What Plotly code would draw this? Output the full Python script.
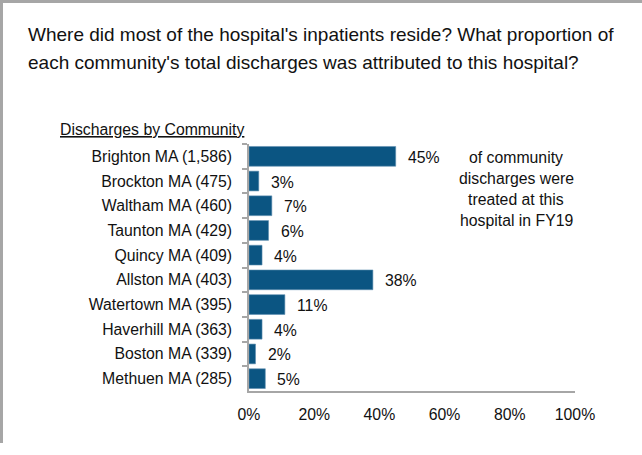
import plotly.graph_objects as go

communities = ["Brighton MA (1,586)", "Brockton MA (475)", "Waltham MA (460)", "Taunton MA (429)",
               "Quincy MA (409)", "Allston MA (403)", "Watertown MA (395)", "Haverhill MA (363)",
               "Boston MA (339)", "Methuen MA (285)"]
share_pct = [45, 3, 7, 6, 4, 38, 11, 4, 2, 5]
x_ticks = [0, 20, 40, 60, 80, 100]
x_tick_labels = ["0%", "20%", "40%", "60%", "80%", "100%"]

title_lines = ["Where did most of the hospital's inpatients reside? What proportion of",
               "each community's total discharges was attributed to this hospital?"]
axis_title = "Discharges by Community"
side_note_lines = ["of community", "discharges were", "treated at this", "hospital in FY19"]

W, H = 642, 455
L, R, T, B = 249, 575, 144, 391
FONT = "Liberation Sans, Arial, sans-serif"
FS = 15.8
BAR = "#0b5582"
GRAY = "#a6a6a6"
TXT = "#111111"

def px(xp):
    return (xp - L) / (R - L)

def py(yp):
    return (B - yp) / (B - T)

fig = go.Figure()
fig.add_trace(go.Bar(
    x=share_pct, y=communities, orientation="h",
    marker=dict(color=BAR, line=dict(color="#5f8fb0", width=0.6)),
    hoverinfo="skip",
))

ann = []
for c, v in zip(communities, share_pct):
    ann.append(dict(x=v, y=c, xref="x", yref="y", text=f"{v}%", showarrow=False,
                    xanchor="left", xshift=10, yshift=-1,
                    font=dict(family=FONT, size=FS, color=TXT)))
for i, line in enumerate(title_lines):
    ann.append(dict(x=px(26), y=py(34 + 29 * i), xref="paper", yref="paper", text=line,
                    showarrow=False, xanchor="left", yanchor="middle",
                    font=dict(family=FONT, size=19, color=TXT)))
ann.append(dict(x=px(246), y=py(130), xref="paper", yref="paper", text=f"<u>{axis_title}</u>",
                showarrow=False, xanchor="right", yanchor="middle",
                font=dict(family=FONT, size=FS, color=TXT)))
for i, line in enumerate(side_note_lines):
    ann.append(dict(x=px(516), y=py(157 + 21 * i), xref="paper", yref="paper", text=line,
                    showarrow=False, xanchor="center", yanchor="middle",
                    font=dict(family=FONT, size=FS, color=TXT)))

shapes = [
    dict(type="rect", xref="paper", yref="paper", x0=px(0), x1=px(W), y0=py(0), y1=py(3),
         fillcolor=GRAY, line=dict(width=0), layer="above"),
    dict(type="rect", xref="paper", yref="paper", x0=px(0), x1=px(3), y0=py(0), y1=py(443),
         fillcolor=GRAY, line=dict(width=0), layer="above"),
]

fig.update_layout(
    width=W, height=H,
    margin=dict(l=L, r=W - R, t=T, b=H - B, pad=0),
    paper_bgcolor="white", plot_bgcolor="white",
    showlegend=False, bargap=0.2,
    font=dict(family=FONT, size=FS, color=TXT),
    annotations=ann, shapes=shapes,
    xaxis=dict(range=[0, 100], tickvals=x_ticks, ticktext=x_tick_labels, showgrid=False,
               zeroline=False, showline=True, linecolor=GRAY, linewidth=1.5, ticks="",
               ticklabelstandoff=8, tickfont=dict(family=FONT, size=FS, color=TXT),
               fixedrange=True),
    yaxis=dict(autorange="reversed", showgrid=False, zeroline=False, showline=True,
               linecolor=GRAY, linewidth=1.5, ticks="outside", ticklen=5, tickcolor=GRAY,
               tickwidth=1.5, tickson="boundaries", ticklabelstandoff=12,
               tickfont=dict(family=FONT, size=FS, color=TXT), fixedrange=True),
)

fig.write_html("out.html", config={"displayModeBar": False},
               post_script="document.body.style.margin='0';document.body.style.overflow='hidden';")
